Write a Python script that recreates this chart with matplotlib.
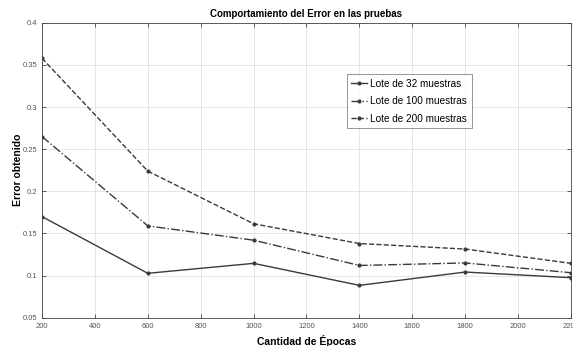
import matplotlib.pyplot as plt

plt.rcParams["font.family"] = ["Liberation Sans", "DejaVu Sans"]

epochs = [200, 600, 1000, 1400, 1800, 2200]
err_32 = [0.170, 0.1027, 0.1145, 0.0884, 0.1042, 0.0975]
err_100 = [0.265, 0.159, 0.142, 0.112, 0.115, 0.1034]
err_200 = [0.358, 0.224, 0.1615, 0.138, 0.1315, 0.1145]
labels = ["Lote de 32 muestras", "Lote de 100 muestras", "Lote de 200 muestras"]
styles = ["-", "-.", "--"]

fig = plt.figure(figsize=(5.73, 3.46), dpi=100)
ax = fig.add_axes([0.0733, 0.0818, 0.9232, 0.8522])

for values, style, label in zip([err_32, err_100, err_200], styles, labels):
    ax.plot(epochs, values, linestyle=style, color="#3a3a3a", linewidth=1.0,
            marker="o", markersize=2, label=label)

ax.set_xlim(200, 2200)
ax.set_ylim(0.05, 0.4)
ax.set_xticks(range(200, 2201, 200))
ax.set_yticks([0.05, 0.1, 0.15, 0.2, 0.25, 0.3, 0.35, 0.4])
ax.set_yticklabels(["0.05", "0.1", "0.15", "0.2", "0.25", "0.3", "0.35", "0.4"])
ax.tick_params(direction="in", length=3, labelsize=5.5, labelcolor="#555555",
               top=True, right=True, color="#444444", width=0.6)
ax.grid(True, color="#e2e2e2", linewidth=0.6)
for spine in ax.spines.values():
    spine.set_color("#444444")
    spine.set_linewidth(0.6)

ax.set_title("Comportamiento del Error en las pruebas", fontsize=7, fontweight="bold", pad=4)
ax.set_xlabel("Cantidad de Épocas", fontsize=7.5, fontweight="bold", labelpad=4)
ax.set_ylabel("Error obtenido", fontsize=7.5, fontweight="bold", labelpad=-0.5)

leg = ax.legend(loc="upper left", bbox_to_anchor=(0.567, 0.843), fontsize=7.2,
                frameon=True, fancybox=False, edgecolor="#666666",
                handlelength=1.6, handletextpad=0.3, borderpad=0.45, labelspacing=0.75)
leg.get_frame().set_linewidth(0.6)

fig.savefig("out.png", dpi=100)
